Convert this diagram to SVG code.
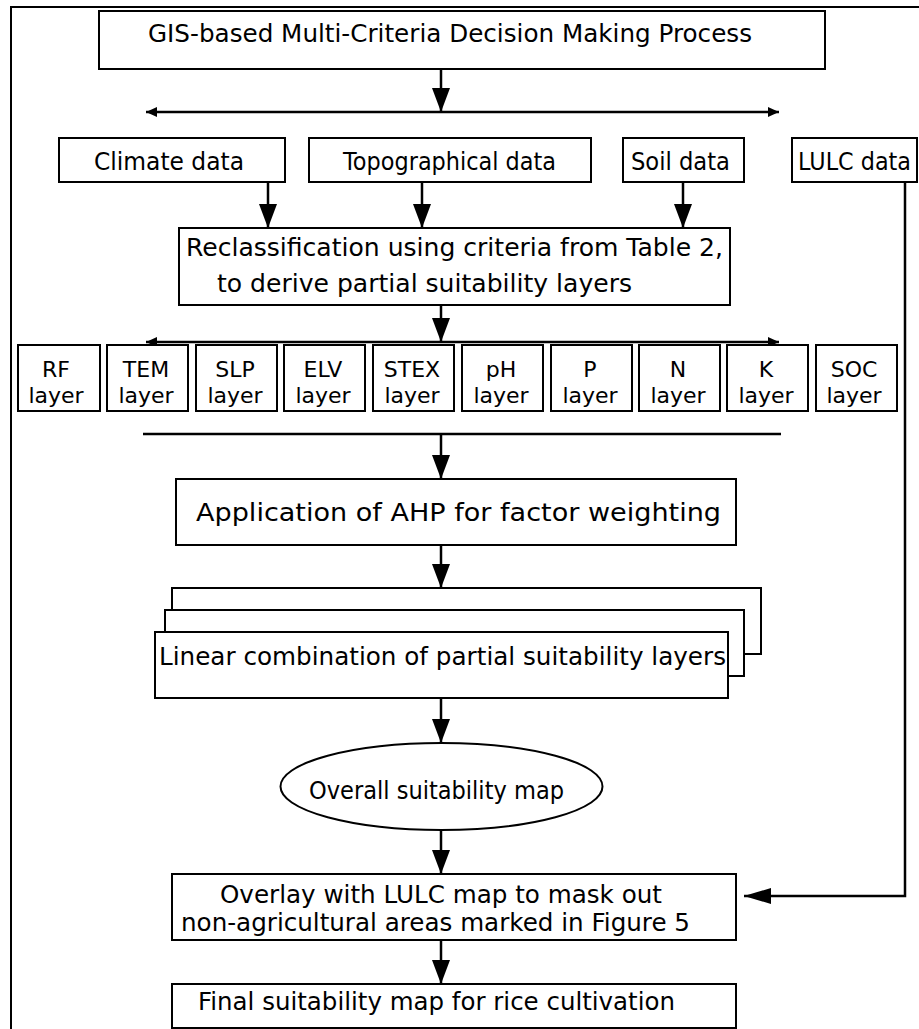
<svg xmlns="http://www.w3.org/2000/svg" width="919" height="1029" viewBox="0 0 919 1029">
<style>
.box{fill:#fff;stroke:#000;stroke-width:2}
.ln{fill:none;stroke:#000;stroke-width:2.5}
.t{font-family:"DejaVu Sans",sans-serif;font-size:24px;fill:#000;text-anchor:middle}
.tl{font-family:"DejaVu Sans",sans-serif;font-size:24px;fill:#000}
.s{font-family:"DejaVu Sans",sans-serif;font-size:22px;fill:#000;text-anchor:middle}
</style>
<defs>
<marker id="ah" viewBox="0 0 11 10" refX="11" refY="5" markerWidth="11" markerHeight="10" markerUnits="userSpaceOnUse" orient="auto-start-reverse"><path d="M0,0 L11,5 L0,10 z" fill="#000"/></marker>
<marker id="big" viewBox="0 0 24 18" refX="24" refY="9" markerWidth="24" markerHeight="18" markerUnits="userSpaceOnUse" orient="auto"><path d="M0,0 L24,9 L0,18 z" fill="#000"/></marker>
<marker id="side" viewBox="0 0 27 16" refX="27" refY="8" markerWidth="27" markerHeight="16" markerUnits="userSpaceOnUse" orient="auto"><path d="M0,0 L27,8 L0,16 z" fill="#000"/></marker>
</defs>
<rect x="11" y="7" width="930" height="1040" fill="none" stroke="#000" stroke-width="2"/>
<g id="connectors">
<line class="ln" x1="441" y1="69" x2="441" y2="112" marker-end="url(#big)"/>
<line class="ln" x1="146" y1="112" x2="779" y2="112" marker-start="url(#ah)" marker-end="url(#ah)"/>
<line class="ln" x1="268" y1="182" x2="268" y2="228" marker-end="url(#big)"/>
<line class="ln" x1="422" y1="182" x2="422" y2="228" marker-end="url(#big)"/>
<line class="ln" x1="683" y1="182" x2="683" y2="228" marker-end="url(#big)"/>
<line class="ln" x1="441" y1="305" x2="441" y2="342" marker-end="url(#big)"/>
<line class="ln" x1="146" y1="342" x2="779" y2="342" marker-start="url(#ah)" marker-end="url(#ah)"/>
<line class="ln" x1="143" y1="434" x2="781" y2="434"/>
<line class="ln" x1="441" y1="434" x2="441" y2="479" marker-end="url(#big)"/>
<line class="ln" x1="441" y1="545" x2="441" y2="588" marker-end="url(#big)"/>
<line class="ln" x1="441" y1="698" x2="441" y2="743" marker-end="url(#big)"/>
<line class="ln" x1="441" y1="830" x2="441" y2="874" marker-end="url(#big)"/>
<line class="ln" x1="441" y1="940" x2="441" y2="984" marker-end="url(#big)"/>
<polyline class="ln" points="905,182 905,896 744,896" marker-end="url(#side)"/>
</g>
<g id="n-top"><rect class="box" x="99" y="11" width="726" height="58"/><text class="tl" x="148" y="42" textLength="604" lengthAdjust="spacingAndGlyphs">GIS-based Multi-Criteria Decision Making Process</text></g>
<g id="n-climate"><rect class="box" x="59" y="138" width="226" height="44"/><text class="tl" x="94" y="170" textLength="150" lengthAdjust="spacingAndGlyphs">Climate data</text></g>
<g id="n-topo"><rect class="box" x="309" y="138" width="282" height="44"/><text class="tl" x="343" y="170" textLength="213" lengthAdjust="spacingAndGlyphs">Topographical data</text></g>
<g id="n-soil"><rect class="box" x="623" y="138" width="121" height="44"/><text class="tl" x="631" y="170" textLength="99" lengthAdjust="spacingAndGlyphs">Soil data</text></g>
<g id="n-lulc"><rect class="box" x="792" y="138" width="125" height="44"/><text class="tl" x="798" y="170" textLength="113" lengthAdjust="spacingAndGlyphs">LULC data</text></g>
<g id="n-reclass"><rect class="box" x="179" y="228" width="551" height="77"/><text class="tl" x="186" y="256" textLength="537" lengthAdjust="spacingAndGlyphs">Reclassification using criteria from Table 2,</text><text class="tl" x="217" y="292" textLength="415" lengthAdjust="spacingAndGlyphs">to derive partial suitability layers</text></g>
<g id="n-rf"><rect class="box" x="18" y="345" width="82" height="66"/><text class="s" x="56" y="377">RF</text><text class="s" x="56" y="403">layer</text></g>
<g id="n-tem"><rect class="box" x="107" y="345" width="81" height="66"/><text class="s" x="146" y="377">TEM</text><text class="s" x="146" y="403">layer</text></g>
<g id="n-slp"><rect class="box" x="196" y="345" width="81" height="66"/><text class="s" x="235" y="377">SLP</text><text class="s" x="235" y="403">layer</text></g>
<g id="n-elv"><rect class="box" x="284" y="345" width="81" height="66"/><text class="s" x="323" y="377">ELV</text><text class="s" x="323" y="403">layer</text></g>
<g id="n-stex"><rect class="box" x="373" y="345" width="81" height="66"/><text class="s" x="412" y="377">STEX</text><text class="s" x="412" y="403">layer</text></g>
<g id="n-ph"><rect class="box" x="462" y="345" width="81" height="66"/><text class="s" x="501" y="377">pH</text><text class="s" x="501" y="403">layer</text></g>
<g id="n-p"><rect class="box" x="551" y="345" width="81" height="66"/><text class="s" x="590" y="377">P</text><text class="s" x="590" y="403">layer</text></g>
<g id="n-n"><rect class="box" x="639" y="345" width="81" height="66"/><text class="s" x="678" y="377">N</text><text class="s" x="678" y="403">layer</text></g>
<g id="n-k"><rect class="box" x="727" y="345" width="81" height="66"/><text class="s" x="766" y="377">K</text><text class="s" x="766" y="403">layer</text></g>
<g id="n-soc"><rect class="box" x="816" y="345" width="81" height="66"/><text class="s" x="854" y="377">SOC</text><text class="s" x="854" y="403">layer</text></g>
<g id="n-ahp"><rect class="box" x="176" y="479" width="560" height="66"/><text class="tl" x="196" y="521" textLength="525" lengthAdjust="spacingAndGlyphs">Application of AHP for factor weighting</text></g>
<g id="n-linear">
<rect class="box" x="172" y="588" width="589" height="66"/>
<rect class="box" x="165" y="610" width="579" height="66"/>
<rect class="box" x="155" y="632" width="573" height="66"/>
<text class="tl" x="159" y="665" textLength="567" lengthAdjust="spacingAndGlyphs">Linear combination of partial suitability layers</text></g>
<g id="n-overall"><ellipse class="box" cx="441.5" cy="786.5" rx="161" ry="43.5"/><text class="tl" x="309" y="799" textLength="255" lengthAdjust="spacingAndGlyphs">Overall suitability map</text></g>
<g id="n-overlay"><rect class="box" x="172" y="874" width="564" height="66"/><text class="tl" x="220" y="903" textLength="442" lengthAdjust="spacingAndGlyphs">Overlay with LULC map to mask out</text><text class="tl" x="181" y="931" textLength="509" lengthAdjust="spacingAndGlyphs">non-agricultural areas marked in Figure 5</text></g>
<g id="n-final"><rect class="box" x="172" y="984" width="564" height="44"/><text class="tl" x="198" y="1010" textLength="477" lengthAdjust="spacingAndGlyphs">Final suitability map for rice cultivation</text></g>
</svg>
